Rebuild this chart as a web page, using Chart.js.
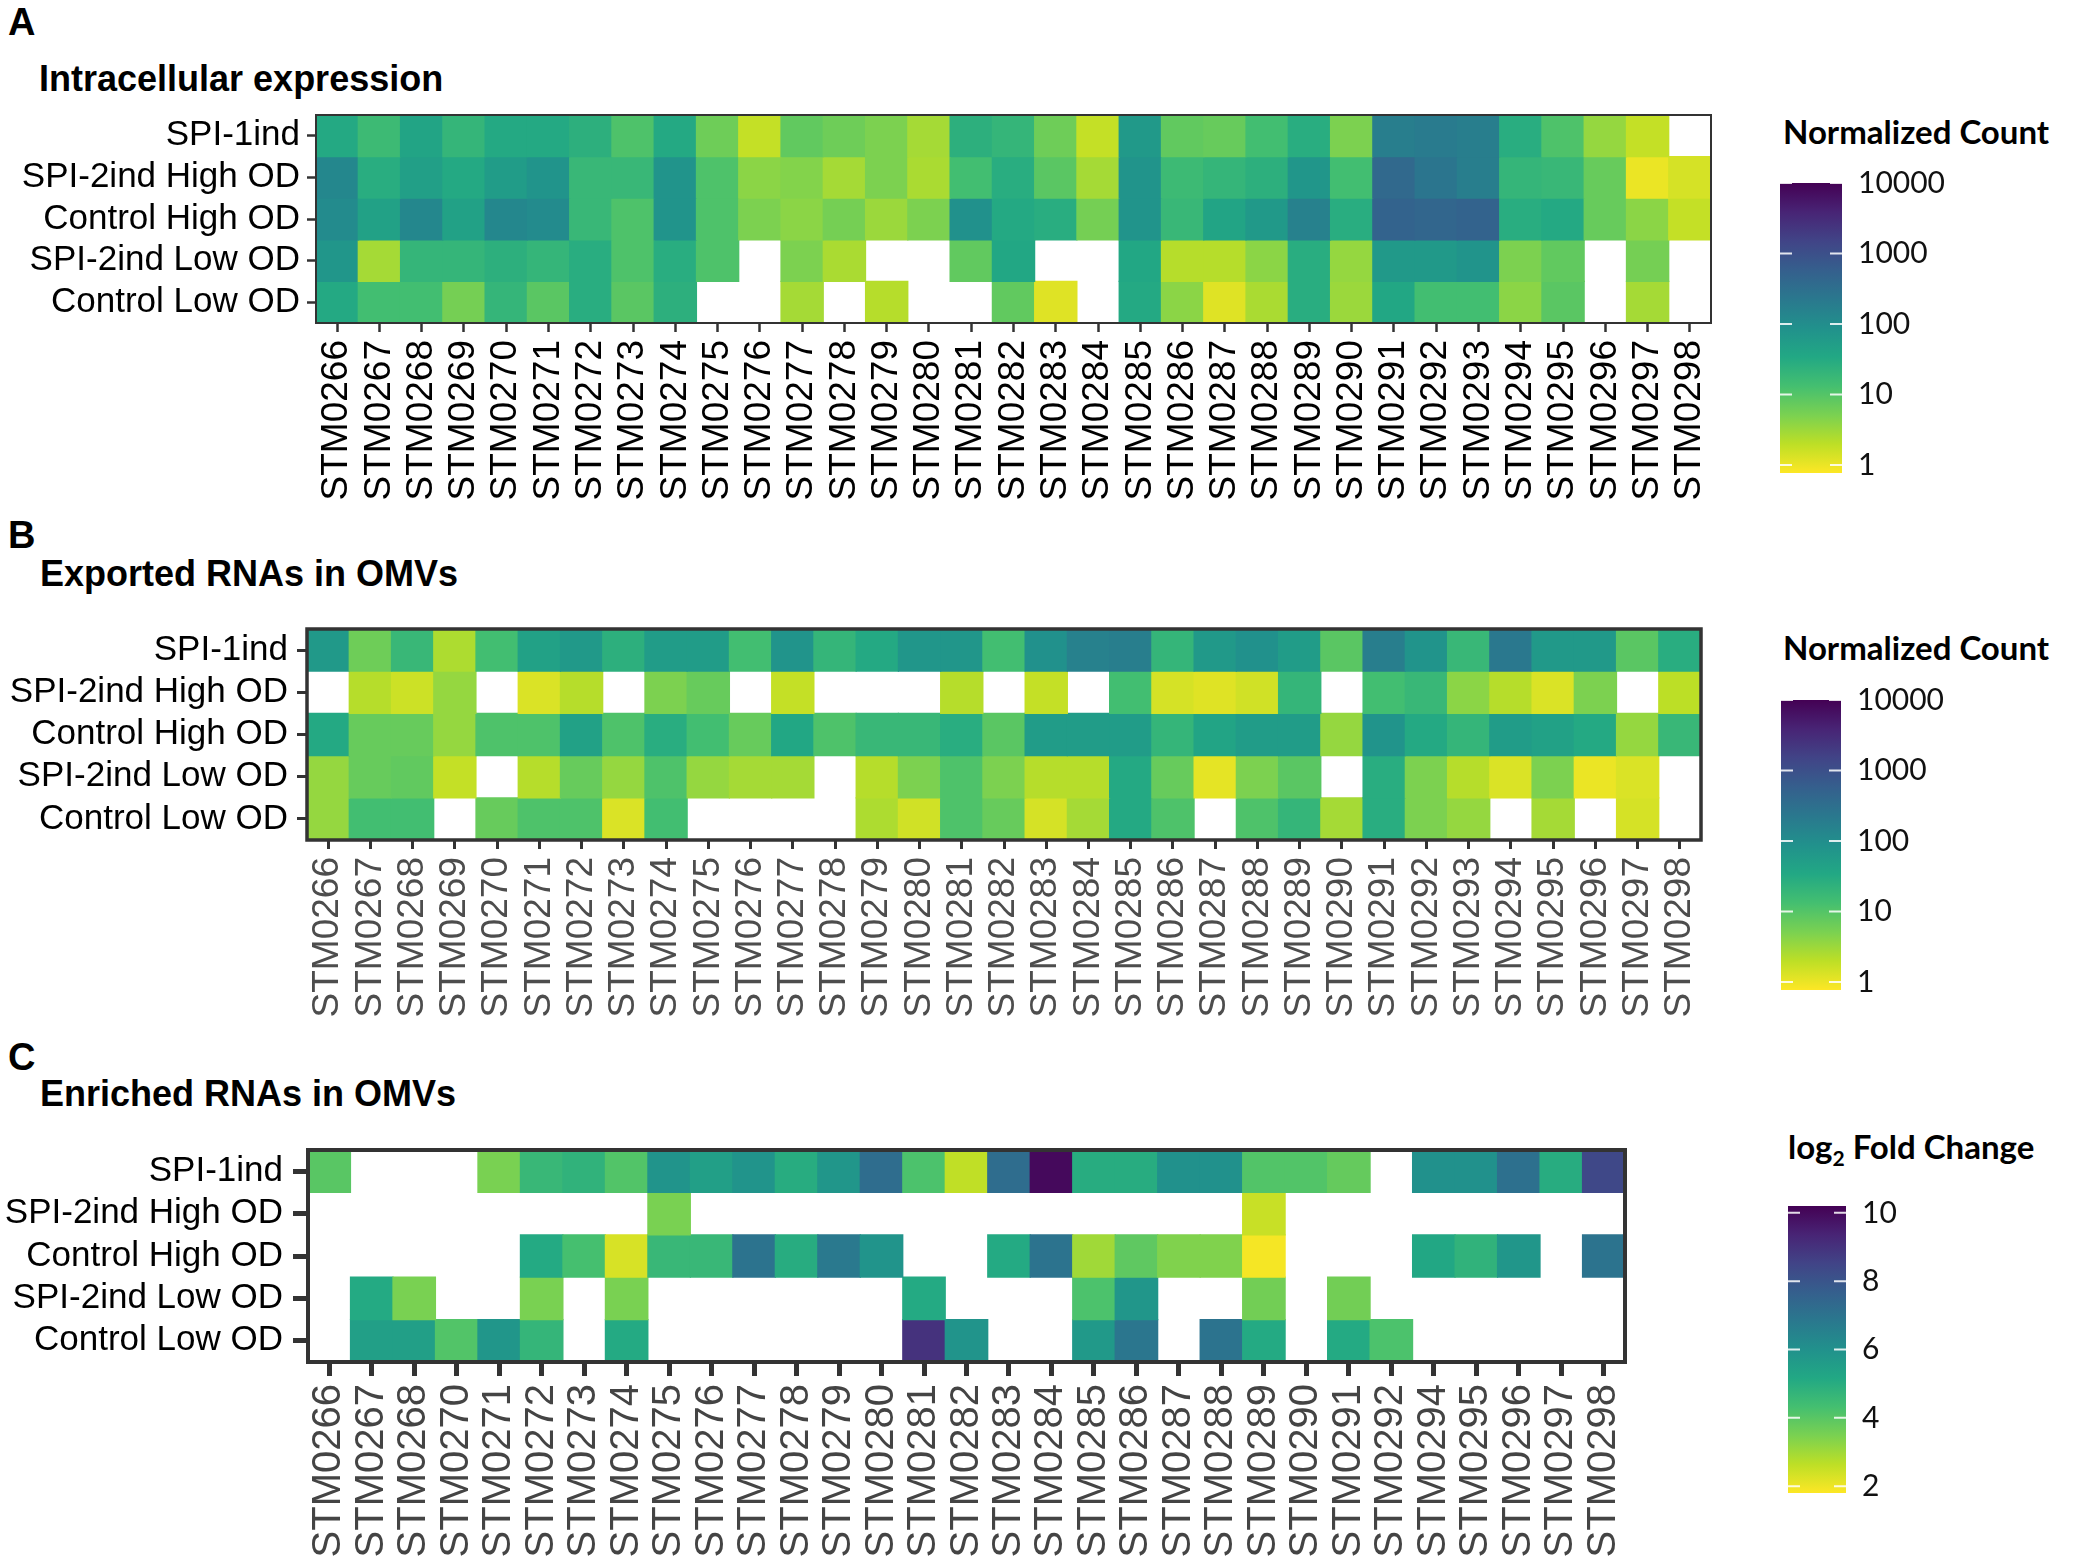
<!DOCTYPE html>
<html>
<head>
<meta charset="utf-8">
<script src="https://cdn.jsdelivr.net/npm/chart.js@4.4.1/dist/chart.umd.min.js"></script>
<style>
  body { margin: 0; background: #fff; width: 2074px; height: 1568px; position: relative; overflow: hidden; }
  canvas { position: absolute; }
  .txt { position: absolute; white-space: nowrap; line-height: 1; color: #000; }
  .panel { font-family: "Liberation Sans", Arial, sans-serif; font-weight: bold; font-size: 38px; }
  .title { font-family: "Liberation Sans", Arial, sans-serif; font-weight: bold; font-size: 36px; }
  .leg { font-family: Lato, "Open Sans", sans-serif; font-weight: bold; font-size: 33px; }
  .leg sub { font-size: 21px; vertical-align: -7px; }
</style>
</head>
<body>
<div class="txt panel" style="left:8px;top:3px">A</div>
<div class="txt title" style="left:39px;top:61px">Intracellular expression</div>
<div class="txt leg" style="left:1783px;top:115px">Normalized Count</div>

<div class="txt panel" style="left:8px;top:516px">B</div>
<div class="txt title" style="left:40px;top:556px">Exported RNAs in OMVs</div>
<div class="txt leg" style="left:1783px;top:631px">Normalized Count</div>

<div class="txt panel" style="left:8px;top:1038px">C</div>
<div class="txt title" style="left:40px;top:1076px">Enriched RNAs in OMVs</div>
<div class="txt leg" style="left:1788px;top:1130px">log<sub>2</sub> Fold Change</div>

<canvas id="heatA"></canvas>
<canvas id="heatB"></canvas>
<canvas id="heatC"></canvas>
<canvas id="barA"></canvas>
<canvas id="barB"></canvas>
<canvas id="barC"></canvas>

<script>
// rows of every heatmap
const conditions = ['SPI-1ind', 'SPI-2ind High OD', 'Control High OD', 'SPI-2ind Low OD', 'Control Low OD']

// genes in panels A and B
const genesAB = ['STM0266', 'STM0267', 'STM0268', 'STM0269', 'STM0270', 'STM0271', 'STM0272', 'STM0273', 'STM0274',
  'STM0275', 'STM0276', 'STM0277', 'STM0278', 'STM0279', 'STM0280', 'STM0281', 'STM0282', 'STM0283', 'STM0284',
  'STM0285', 'STM0286', 'STM0287', 'STM0288', 'STM0289', 'STM0290', 'STM0291', 'STM0292', 'STM0293', 'STM0294',
  'STM0295', 'STM0296', 'STM0297', 'STM0298']

// genes in panel C (no STM0269, STM0293)
const genesC = ['STM0266', 'STM0267', 'STM0268', 'STM0270', 'STM0271', 'STM0272', 'STM0273', 'STM0274', 'STM0275',
  'STM0276', 'STM0277', 'STM0278', 'STM0279', 'STM0280', 'STM0281', 'STM0282', 'STM0283', 'STM0284', 'STM0285',
  'STM0286', 'STM0287', 'STM0288', 'STM0289', 'STM0290', 'STM0291', 'STM0292', 'STM0294', 'STM0295', 'STM0296',
  'STM0297', 'STM0298']

// A - intracellular normalized counts (null = not detected)
const intraSpi1 = [32, 16, 40, 20, 32, 32, 25, 11, 32, 6.3, 1.8, 7.9, 6.3, 5, 2.8, 25, 20, 6.3, 1.8, 63, 7.9, 7.1, 14, 28, 5, 178, 200, 178, 28, 11, 3.5, 1.8, null]
const intraSpi2High = [126, 28, 50, 32, 56, 79, 18, 18, 79, 11, 4, 4.5, 2.8, 5, 2.6, 14, 28, 8.9, 2.8, 79, 16, 20, 25, 71, 14, 398, 251, 178, 20, 18, 7.1, 1, 1.4]
const intraCtrlHigh = [112, 45, 126, 45, 126, 112, 18, 11, 79, 11, 5, 4, 5.6, 3.2, 5, 89, 32, 28, 5.6, 79, 18, 40, 63, 158, 28, 501, 447, 501, 28, 32, 7.1, 4, 1.8]
const intraSpi2Low = [71, 2.8, 20, 20, 25, 20, 28, 11, 28, 11, null, 5, 2.6, null, null, 7.9, 35, null, null, 35, 2.2, 2.2, 4, 28, 3.5, 63, 63, 79, 5, 7.9, null, 5.6, null]
const intraCtrlLow = [32, 14, 14, 5.6, 20, 8.9, 28, 8.9, 25, null, null, 2.8, null, 2.2, null, null, 7.9, 1.2, null, 32, 4, 1.2, 2.6, 28, 3.2, 35, 14, 14, 4, 8.9, null, 2.8, null]

// B - exported RNAs in OMVs, normalized counts
const omvSpi1 = [63, 6.3, 18, 2.5, 14, 45, 63, 25, 56, 56, 14, 79, 20, 32, 71, 71, 14, 89, 158, 178, 20, 63, 89, 56, 8.9, 178, 79, 18, 224, 63, 63, 8.9, 28]
const omvSpi2High = [null, 2.2, 1.6, 3.5, null, 1.3, 2.2, null, 5, 7.1, null, 1.8, null, null, null, 2.2, null, 1.8, null, 14, 1.4, 1.2, 1.5, 20, null, 14, 18, 4, 2.2, 1.3, 5, null, 2]
const omvCtrlHigh = [32, 7.1, 7.1, 3.5, 11, 11, 45, 11, 28, 14, 7.1, 35, 11, 18, 18, 28, 8.9, 56, 56, 56, 20, 40, 56, 56, 3.5, 79, 32, 20, 56, 45, 32, 3.5, 18]
const omvSpi2Low = [3.5, 7.1, 7.9, 1.8, null, 2.2, 7.1, 3.5, 11, 3.5, 2.8, 2.8, null, 2.2, 5, 11, 5, 2.2, 2.2, 32, 7.1, 1.1, 5, 8.9, null, 28, 5, 2.2, 1.3, 5, 1, 1.3, null]
const omvCtrlLow = [3.5, 14, 14, null, 7.1, 11, 11, 1.3, 14, null, null, null, null, 2.5, 1.5, 11, 7.1, 1.4, 2.8, 32, 11, null, 11, 20, 2.8, 28, 5, 3.5, null, 2.8, null, 1.4, null]

// C - enriched RNAs in OMVs, log2 fold change
const enrSpi1 = [4.0, null, null, null, 3.5, 4.6, 4.8, 4.1, 5.9, 5.5, 5.9, 5.0, 5.8, 7.2, 4.2, 2.6, 7.2, 10.0, 5.0, 5.0, 6.0, 6.0, 4.1, 4.1, 3.8, null, 6.0, 6.0, 7.1, 5.0, 8.4]
const enrSpi2High = [null, null, null, null, null, null, null, null, 3.5, null, null, null, null, null, null, null, null, null, null, null, null, null, 2.5, null, null, null, null, null, null, null, null]
const enrCtrlHigh = [null, null, null, null, null, 5.1, 4.3, 2.3, 4.6, 4.6, 7.0, 5.0, 6.8, 5.9, null, null, 5.1, 7.0, 3.0, 3.9, 3.4, 3.4, 1.9, null, null, null, 5.2, 4.8, 5.8, null, 7.0]
const enrSpi2Low = [null, 5.1, 3.5, null, null, 3.5, null, 3.5, null, null, null, null, null, null, 5.1, null, null, null, 4.2, 5.8, null, null, 3.6, null, 3.6, null, null, null, null, null, null]
const enrCtrlLow = [null, 5.5, 5.5, 4.1, 5.8, 4.7, null, 5.1, null, null, null, null, null, null, 9.0, 5.9, null, null, 5.7, 6.9, null, 7.0, 5.1, null, 5.1, 4.2, null, null, null, null, null]

// colour bar ranges and ticks
const countRange = [0.77, 10000]
const countTicks = [1, 10, 100, 1000, 10000]
const foldRange = [1.8, 10.2]
const foldTicks = [2, 4, 6, 8, 10]

const viridis = ['#440154', '#482475', '#414487', '#355f8d', '#2a788e', '#21918c', '#22a884', '#44bf70', '#7ad151', '#bddf26', '#fde725']
const sans = '"Liberation Sans", Arial, sans-serif'

const hex = h => [1, 3, 5].map(i => parseInt(h.substr(i, 2), 16))

const viridisAt = t => {
    t = Math.max(0, Math.min(1, t))
    const p = t * (viridis.length - 1)
    const i = Math.min(Math.floor(p), viridis.length - 2)
    const f = p - i
    const a = hex(viridis[i]), b = hex(viridis[i + 1])
    const c = a.map((v, k) => Math.round(v + (b[k] - v) * f))
    return `rgb(${c[0]},${c[1]},${c[2]})`
}

// high values purple, low values yellow
const countColor = v => {
    const lo = Math.log10(countRange[0]), hi = Math.log10(countRange[1])
    return viridisAt(1 - (Math.log10(v) - lo) / (hi - lo))
}
const foldColor = v => viridisAt(1 - (v - foldRange[0]) / (foldRange[1] - foldRange[0]))

const framePlugin = {
    id: 'frame',
    afterDatasetsDraw(chart, args, opts) {
        const { ctx, chartArea: a } = chart
        ctx.save()
        ctx.strokeStyle = opts.color
        ctx.lineWidth = opts.width
        ctx.strokeRect(a.left, a.top, a.right - a.left, a.bottom - a.top)
        ctx.restore()
    }
}

const heatmap = (id, box, genes, series, colorOf, look) => {
    const canvas = document.getElementById(id)
    const pad = 10
    const xAxisH = 225
    canvas.width = box.right + pad
    canvas.height = pad + (box.bottom - box.top) + xAxisH
    canvas.style.left = '0px'
    canvas.style.top = (box.top - pad) + 'px'

    const datasets = series.map((vals, i) => ({
        label: conditions[i],
        data: vals.map(v => v == null ? null : [i, i + 1]),
        backgroundColor: vals.map(v => v == null ? 'rgba(0,0,0,0)' : colorOf(v)),
        borderWidth: 0,
        grouped: false,
        barPercentage: 1,
        categoryPercentage: 1,
        inflateAmount: 0.6
    }))

    return new Chart(canvas, {
        type: 'bar',
        data: { labels: genes, datasets: datasets },
        plugins: [framePlugin],
        options: {
            responsive: false,
            animation: false,
            layout: { padding: { top: pad, right: pad, left: 0, bottom: 0 } },
            plugins: {
                legend: { display: false },
                tooltip: { enabled: false },
                frame: { color: '#333', width: look.frame }
            },
            scales: {
                x: {
                    type: 'category',
                    afterFit: s => {
                        s.height = xAxisH
                        s.paddingLeft = 0
                        s.paddingRight = 0
                    },
                    grid: { display: true, drawOnChartArea: false, offset: false, tickLength: look.xTick, tickWidth: look.tickWidth, tickColor: '#333' },
                    border: { display: false },
                    ticks: {
                        autoSkip: false, maxRotation: 90, minRotation: 90, padding: 8,
                        color: look.geneColor, font: { family: sans, size: look.geneSize }
                    }
                },
                y: {
                    type: 'linear',
                    min: 0,
                    max: conditions.length,
                    reverse: true,
                    afterFit: s => {
                        s.width = box.left
                        s.paddingTop = 0
                        s.paddingBottom = 0
                    },
                    afterBuildTicks: s => { s.ticks = conditions.map((c, i) => ({ value: i + 0.5 })) },
                    grid: { display: true, drawOnChartArea: false, tickLength: look.yTick, tickWidth: look.tickWidth, tickColor: '#333' },
                    border: { display: false },
                    ticks: {
                        padding: look.yPad, color: '#000', font: { family: sans, size: 35 },
                        callback: (v, i) => conditions[i]
                    }
                }
            }
        }
    })
}

const barTicksPlugin = {
    id: 'barTicks',
    afterDatasetsDraw(chart) {
        const { ctx, chartArea: a } = chart
        const s = chart.scales.y
        ctx.save()
        ctx.strokeStyle = 'rgba(255,255,255,0.85)'
        ctx.lineWidth = 2
        s.ticks.forEach(t => {
            const y = s.getPixelForValue(t.value)
            ctx.beginPath()
            ctx.moveTo(a.left, y); ctx.lineTo(a.left + 12, y)
            ctx.moveTo(a.right - 12, y); ctx.lineTo(a.right, y)
            ctx.stroke()
        })
        ctx.restore()
    }
}

const colorBar = (id, box, range, ticks, isLog) => {
    const canvas = document.getElementById(id)
    const pad = 20
    const w = 300
    canvas.width = w
    canvas.height = (box.bottom - box.top) + 2 * pad
    canvas.style.left = (box.left - pad) + 'px'
    canvas.style.top = (box.top - pad) + 'px'

    return new Chart(canvas, {
        type: 'bar',
        data: {
            labels: [''],
            datasets: [{
                data: [range],
                barPercentage: 1,
                categoryPercentage: 1,
                borderWidth: 0,
                inflateAmount: 0,
                backgroundColor: c => {
                    const a = c.chart.chartArea
                    if (!a) return '#21918c'
                    const g = c.chart.ctx.createLinearGradient(0, a.bottom, 0, a.top)
                    viridis.slice().reverse().forEach((col, i) => g.addColorStop(i / (viridis.length - 1), col))
                    return g
                }
            }]
        },
        plugins: [barTicksPlugin],
        options: {
            responsive: false,
            animation: false,
            layout: { padding: { top: pad, bottom: pad, left: pad, right: 0 } },
            plugins: { legend: { display: false }, tooltip: { enabled: false } },
            scales: {
                x: { display: false },
                y: {
                    type: isLog ? 'logarithmic' : 'linear',
                    position: 'right',
                    min: range[0],
                    max: range[1],
                    afterFit: s => {
                        s.width = w - pad - (box.right - box.left)
                        s.paddingTop = 0
                        s.paddingBottom = 0
                    },
                    afterBuildTicks: s => { s.ticks = ticks.map(v => ({ value: v })) },
                    grid: { display: false, drawTicks: false },
                    border: { display: false },
                    ticks: {
                        padding: 16, color: '#111', font: { family: 'Lato, "Open Sans", sans-serif', size: 30 },
                        callback: v => String(v)
                    }
                }
            }
        }
    })
}

const lookA = { frame: 2, tickWidth: 2.5, xTick: 9, yTick: 9, yPad: 7, geneColor: '#000', geneSize: 37 }
const lookB = { frame: 3.5, tickWidth: 3, xTick: 9, yTick: 10, yPad: 9, geneColor: '#4d4d4d', geneSize: 37 }
const lookC = { frame: 4, tickWidth: 5, xTick: 14, yTick: 15, yPad: 10, geneColor: '#444', geneSize: 40 }

heatmap('heatA', { left: 316, top: 115, right: 1711, bottom: 323 }, genesAB,
    [intraSpi1, intraSpi2High, intraCtrlHigh, intraSpi2Low, intraCtrlLow], countColor, lookA)
heatmap('heatB', { left: 307, top: 629, right: 1701, bottom: 840 }, genesAB,
    [omvSpi1, omvSpi2High, omvCtrlHigh, omvSpi2Low, omvCtrlLow], countColor, lookB)
heatmap('heatC', { left: 308, top: 1150, right: 1625, bottom: 1362 }, genesC,
    [enrSpi1, enrSpi2High, enrCtrlHigh, enrSpi2Low, enrCtrlLow], foldColor, lookC)

colorBar('barA', { left: 1780, right: 1842, top: 183, bottom: 473 }, countRange, countTicks, true)
colorBar('barB', { left: 1781, right: 1841, top: 700, bottom: 990 }, countRange, countTicks, true)
colorBar('barC', { left: 1788, right: 1846, top: 1206, bottom: 1493 }, foldRange, foldTicks, false)
</script>
</body>
</html>
